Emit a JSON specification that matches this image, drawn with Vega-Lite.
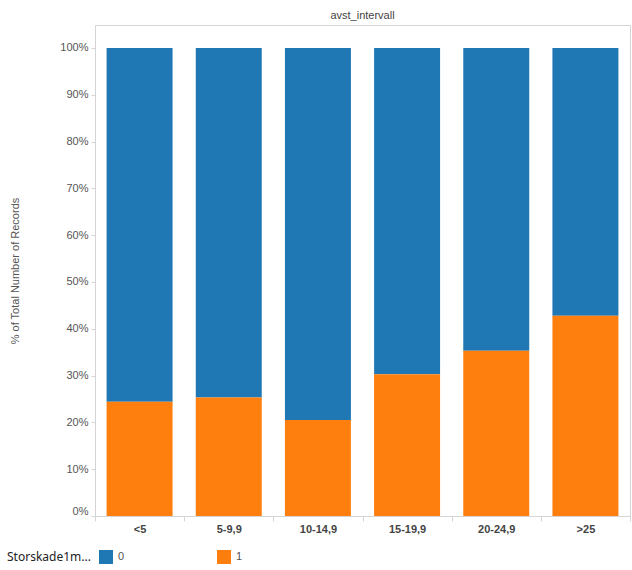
{
  "$schema": "https://vega.github.io/schema/vega-lite/v6.json",
  "autosize": "none",
  "width": 535,
  "height": 491,
  "padding": {"left": 95, "top": 25, "right": 2, "bottom": 54},
  "background": "white",
  "title": {
    "text": "avst_intervall",
    "anchor": "middle",
    "offset": 4,
    "fontSize": 11,
    "fontWeight": "normal",
    "font": "Liberation Sans",
    "color": "#444"
  },
  "config": {
    "view": {"stroke": "#d4d4d4", "strokeWidth": 1},
    "font": "Liberation Sans"
  },
  "data": {
    "values": [
      {"interval": "<5", "k": "0", "pct": 75.6},
      {"interval": "<5", "k": "1", "pct": 24.4},
      {"interval": "5-9,9", "k": "0", "pct": 74.7},
      {"interval": "5-9,9", "k": "1", "pct": 25.3},
      {"interval": "10-14,9", "k": "0", "pct": 79.5},
      {"interval": "10-14,9", "k": "1", "pct": 20.5},
      {"interval": "15-19,9", "k": "0", "pct": 69.7},
      {"interval": "15-19,9", "k": "1", "pct": 30.3},
      {"interval": "20-24,9", "k": "0", "pct": 64.7},
      {"interval": "20-24,9", "k": "1", "pct": 35.3},
      {"interval": ">25", "k": "0", "pct": 57.2},
      {"interval": ">25", "k": "1", "pct": 42.8}
    ]
  },
  "mark": {"type": "bar", "width": {"band": 0.74}},
  "encoding": {
    "x": {
      "field": "interval",
      "type": "nominal",
      "sort": ["<5", "5-9,9", "10-14,9", "15-19,9", "20-24,9", ">25"],
      "scale": {"paddingInner": 0, "paddingOuter": 0},
      "axis": {
        "title": null,
        "labelAngle": 0,
        "labelFontSize": 11,
        "labelFontWeight": "bold",
        "labelColor": "#444",
        "labelPadding": 2,
        "tickBand": "extent",
        "tickSize": 5,
        "tickColor": "#d4d4d4",
        "domain": false
      }
    },
    "y": {
      "field": "pct",
      "type": "quantitative",
      "stack": "normalize",
      "scale": {"domain": [0, 1.049], "nice": false},
      "axis": {
        "title": "% of Total Number of Records",
        "titleFontSize": 11,
        "titleFontWeight": "normal",
        "titleColor": "#555",
        "titleX": -75,
        "values": [0, 0.1, 0.2, 0.3, 0.4, 0.5, 0.6, 0.7, 0.8, 0.9, 1],
        "format": ".0%",
        "labelFontSize": 11,
        "labelColor": "#555",
        "labelPadding": 3,
        "labelFlush": true,
        "labelFlushOffset": 0,
        "tickSize": 4,
        "tickColor": "#d4d4d4",
        "grid": false,
        "domain": false
      }
    },
    "color": {
      "field": "k",
      "type": "nominal",
      "scale": {"domain": ["0", "1"], "range": ["#1f77b4", "#ff7f0e"]},
      "legend": {
        "title": "Storskade1m...",
        "orient": "none",
        "legendX": -88,
        "legendY": 525,
        "direction": "horizontal",
        "titleOrient": "left",
        "titleFont": "Noto Sans",
        "titleFontSize": 12,
        "titleFontWeight": "normal",
        "titleColor": "#222",
        "titlePadding": 8,
        "titleBaseline": "middle",
        "symbolType": "square",
        "symbolSize": 196,
        "symbolStrokeWidth": 0,
        "symbolOpacity": 1,
        "labelFontSize": 11,
        "labelColor": "#555",
        "labelOffset": 5,
        "columnPadding": 92,
        "padding": 0
      }
    },
    "order": {"field": "k", "sort": "descending"}
  }
}
